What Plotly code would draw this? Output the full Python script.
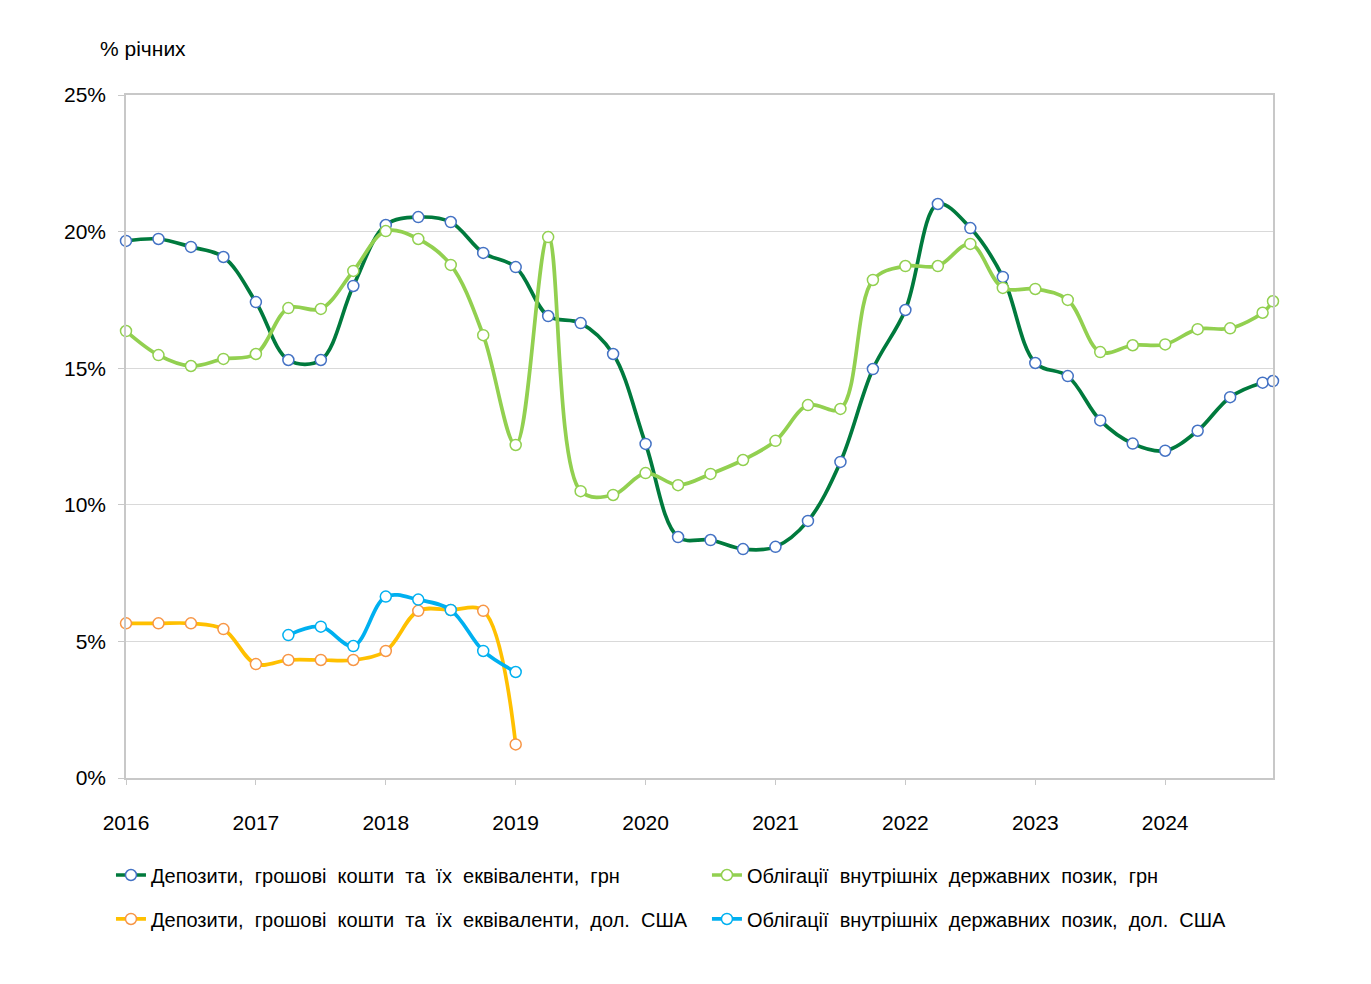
import plotly.graph_objects as go

# Quarterly dates (decimal years), last point ~Nov 2024
x_dates = [2016.0, 2016.25, 2016.5, 2016.75, 2017.0, 2017.25, 2017.5, 2017.75,
           2018.0, 2018.25, 2018.5, 2018.75, 2019.0, 2019.25, 2019.5, 2019.75,
           2020.0, 2020.25, 2020.5, 2020.75, 2021.0, 2021.25, 2021.5, 2021.75,
           2022.0, 2022.25, 2022.5, 2022.75, 2023.0, 2023.25, 2023.5, 2023.75,
           2024.0, 2024.25, 2024.5, 2024.75, 2024.83]

dep_uah = [19.66, 19.73, 19.44, 19.07, 17.42, 15.30, 15.30, 18.01,
           20.24, 20.53, 20.35, 19.22, 18.70, 16.91, 16.65, 15.52,
           12.23, 8.82, 8.71, 8.38, 8.46, 9.41, 11.57, 14.97,
           17.13, 21.01, 20.13, 18.34, 15.19, 14.71, 13.09, 12.24,
           11.98, 12.71, 13.94, 14.47, 14.53]

bonds_uah = [16.36, 15.48, 15.08, 15.34, 15.52, 17.20, 17.17, 18.56,
             20.02, 19.73, 18.78, 16.21, 12.19, 19.80, 10.50, 10.36,
             11.16, 10.72, 11.13, 11.64, 12.34, 13.65, 13.51, 18.23,
             18.74, 18.74, 19.55, 17.94, 17.90, 17.50, 15.59, 15.84,
             15.87, 16.43, 16.46, 17.03, 17.45]

x_dep_usd = [2016.0, 2016.25, 2016.5, 2016.75, 2017.0, 2017.25, 2017.5, 2017.75,
             2018.0, 2018.25, 2018.5, 2018.75, 2019.0]
dep_usd = [5.66, 5.66, 5.66, 5.45, 4.17, 4.32, 4.32, 4.32,
           4.65, 6.12, 6.15, 6.12, 1.23]

x_bonds_usd = [2017.25, 2017.5, 2017.75, 2018.0, 2018.25, 2018.5, 2018.75, 2019.0]
bonds_usd = [5.23, 5.54, 4.83, 6.64, 6.53, 6.15, 4.65, 3.88]

year_ticks = [2016, 2017, 2018, 2019, 2020, 2021, 2022, 2023, 2024]
year_labels = [str(y) for y in year_ticks]
y_ticks = [0, 5, 10, 15, 20, 25]
y_labels = [f"{v}%" for v in y_ticks]

names = [
    "Депозити, грошові кошти та їх еквіваленти, грн",
    "Облігації внутрішніх державних позик, грн",
    "Депозити, грошові кошти та їх еквіваленти, дол. США",
    "Облігації внутрішніх державних позик, дол. США",
]

FONT = "Liberation Sans, Arial, sans-serif"

def wide(s):
    # slightly wider word spacing, as in the reference
    return s.replace(" ", " \u00a0")

fig = go.Figure()

def add(x, y, name, line_color, marker_color, legend):
    fig.add_trace(go.Scatter(
        x=x, y=y, name=wide(name), mode="lines+markers",
        line=dict(color=line_color, width=3.7, shape="spline", smoothing=1.0),
        marker=dict(size=11, color="white", line=dict(color=marker_color, width=1.5)),
        cliponaxis=False, legend=legend,
    ))

add(x_dates, dep_uah, names[0], "#007A3D", "#4472C4", "legend")
add(x_dates, bonds_uah, names[1], "#92D050", "#92D050", "legend2")
add(x_dep_usd, dep_usd, names[2], "#FFC000", "#F79646", "legend3")
add(x_bonds_usd, bonds_usd, names[3], "#00B0F0", "#00B0F0", "legend4")

def leg(x, y):
    return dict(orientation="h", xanchor="left", yanchor="middle", x=x, y=y,
                font=dict(family=FONT, size=20, color="#000"),
                bgcolor="rgba(0,0,0,0)")

fig.update_layout(
    width=1355, height=968,
    margin=dict(l=118, r=90, t=87, b=198),
    paper_bgcolor="white", plot_bgcolor="white",
    font=dict(family=FONT, size=21, color="#000"),
    showlegend=True,
    legend=leg(-0.0131, -0.142),
    legend2=leg(0.5065, -0.142),
    legend3=leg(-0.0131, -0.2064),
    legend4=leg(0.5065, -0.2064),
    xaxis=dict(
        range=[2016, 2024.83], tickmode="array", tickvals=year_ticks, ticktext=year_labels,
        showgrid=False, showline=True, linecolor="#C8C8C8", linewidth=1.5, mirror=True,
        ticks="outside", ticklen=5, tickcolor="#C8C8C8", ticklabelstandoff=20,
        tickfont=dict(family=FONT, size=21, color="#000"), zeroline=False,
    ),
    yaxis=dict(
        range=[0, 25], tickmode="array", tickvals=y_ticks, ticktext=y_labels,
        showgrid=True, gridcolor="#D9D9D9", gridwidth=1.3,
        showline=True, linecolor="#C8C8C8", linewidth=1.5, mirror=True,
        ticks="outside", ticklen=6, tickcolor="#C8C8C8", ticklabelstandoff=8,
        tickfont=dict(family=FONT, size=21, color="#000"), zeroline=False,
    ),
    annotations=[dict(
        text="% річних", xref="paper", yref="paper", x=-0.0244, y=1.0688,
        xanchor="left", yanchor="middle", showarrow=False,
        font=dict(family=FONT, size=21, color="#000"),
    )],
)

fig.write_html("out.html")
